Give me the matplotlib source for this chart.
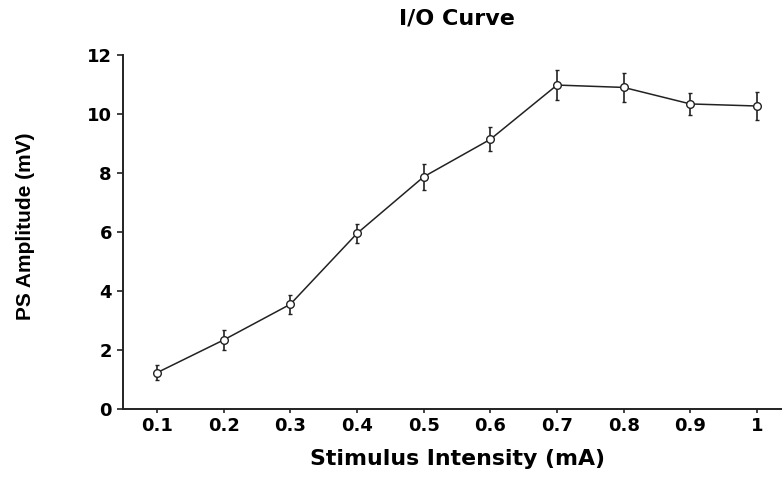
import numpy as np
import matplotlib.pyplot as plt

plt.rcParams['font.family'] = ['DejaVu Sans']

intensity = [0.1, 0.2, 0.3, 0.4, 0.5, 0.6, 0.7, 0.8, 0.9, 1.0]
tick_labels = ['0.1', '0.2', '0.3', '0.4', '0.5', '0.6', '0.7', '0.8', '0.9', '1']
amplitude = [1.23, 2.34, 3.55, 5.95, 7.87, 9.14, 10.98, 10.9, 10.34, 10.27]
sem = [0.25, 0.35, 0.32, 0.33, 0.45, 0.41, 0.5, 0.48, 0.37, 0.47]

fig = plt.figure(figsize=(7.82, 4.78), dpi=100)
ax = fig.add_axes([0.1573, 0.1444, 0.8427, 0.7406])

ax.errorbar(intensity, amplitude, yerr=sem, color='#222222', linewidth=1.1,
            marker='o', markersize=5.5, markerfacecolor='white', markeredgewidth=1.0,
            elinewidth=1.2, capsize=1.5, capthick=1.2)

ax.set_xlim(0.049, 1.0375)
ax.set_ylim(0, 12)
ax.set_xticks(intensity)
ax.set_xticklabels(tick_labels)
ax.set_yticks([0, 2, 4, 6, 8, 10, 12])

ax.spines['top'].set_visible(False)
ax.spines['right'].set_visible(False)
for s in ['left', 'bottom']:
    ax.spines[s].set_linewidth(1.4)
    ax.spines[s].set_color('#222222')

ax.tick_params(axis='both', labelsize=13, width=1.2, length=4, color='#222222')
ax.tick_params(axis='x', pad=3, length=3)
ax.tick_params(axis='y', pad=4)
for lab in ax.get_xticklabels() + ax.get_yticklabels():
    lab.set_fontweight('bold')

ax.set_xlabel('Stimulus Intensity (mA)', fontsize=15.8, fontweight='bold')
ax.xaxis.set_label_coords(0.5076, -0.113)
ax.set_ylabel('PS Amplitude (mV)', fontsize=15, fontweight='bold', family='Liberation Sans')
ax.yaxis.set_label_coords(-0.134, 0.517)
fig.text(0.584, 0.962, 'I/O Curve', fontsize=16, fontweight='bold', ha='center', va='center')

fig.savefig('out.png', dpi=100)
